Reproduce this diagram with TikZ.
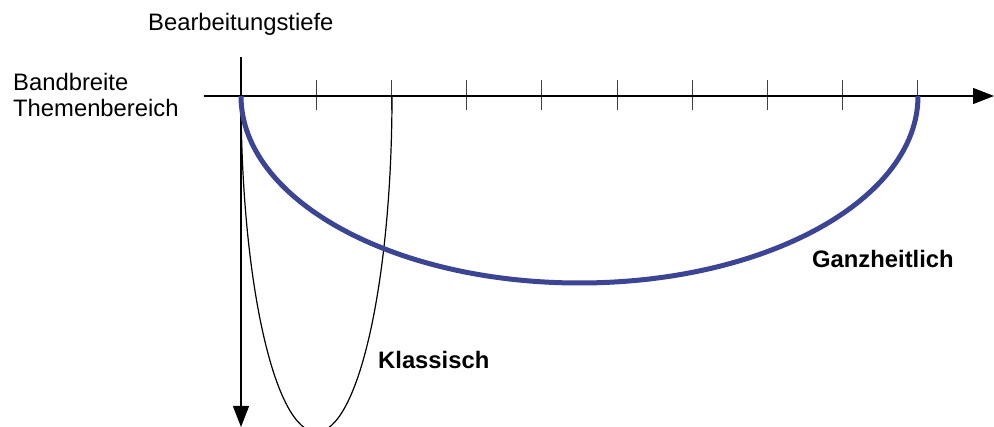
\documentclass[tikz,border=0pt]{standalone}
\usepackage{fontspec}
\setmainfont{Liberation Sans}
\usetikzlibrary{arrows.meta}
\definecolor{curveblue}{RGB}{60,68,148}
\tikzset{
  lbl/.style={inner sep=0pt, anchor=base west, font=\fontsize{23.8}{26}\selectfont},
  blbl/.style={lbl, font=\fontsize{23.8}{26}\selectfont\bfseries},
  axis/.style={line width=1.2pt, -{Triangle[length=21pt,width=16pt]}},
  tick/.style={line width=1pt, black!75},
  thincurve/.style={line width=1.2pt},
  thickcurve/.style={line width=5pt, curveblue}
}
\begin{document}
\begin{tikzpicture}[x=1pt,y=1pt]
\useasboundingbox (0,0) rectangle (994,427);
\clip (0,0) rectangle (994,427);
% texts
\node[lbl] (t1) at (148,396) {Bearbeitungstiefe};
\node[lbl] (t2) at (13,336) {Bandbreite};
\node[lbl] (t3) at (13,310) {Themenbereich};
\node[blbl] (k) at (378,58) {Klassisch};
\node[blbl] (g) at (812,159) {Ganzheitlich};
% axes
\coordinate (hs) at (204,331);
\coordinate (he) at (994,331);
\coordinate (vs) at (241,370);
\coordinate (ve) at (241,0);
\coordinate (o) at (241,331);
% ticks
\foreach \i in {1,...,9}{
  \coordinate (tk\i a) at (241+\i*75.22,347);
  \coordinate (tk\i b) at (241+\i*75.22,317);
  \draw[tick] (tk\i a) -- (tk\i b);
}
\draw[axis] (hs) -- (he);
\draw[axis] (vs) -- (ve);
% curves
\draw[thincurve] (o) arc[start angle=180, end angle=360, x radius=75.5, y radius=336];
\draw[thickcurve] (o) arc[start angle=180, end angle=360, x radius=338.5, y radius=187];
\end{tikzpicture}
\end{document}
